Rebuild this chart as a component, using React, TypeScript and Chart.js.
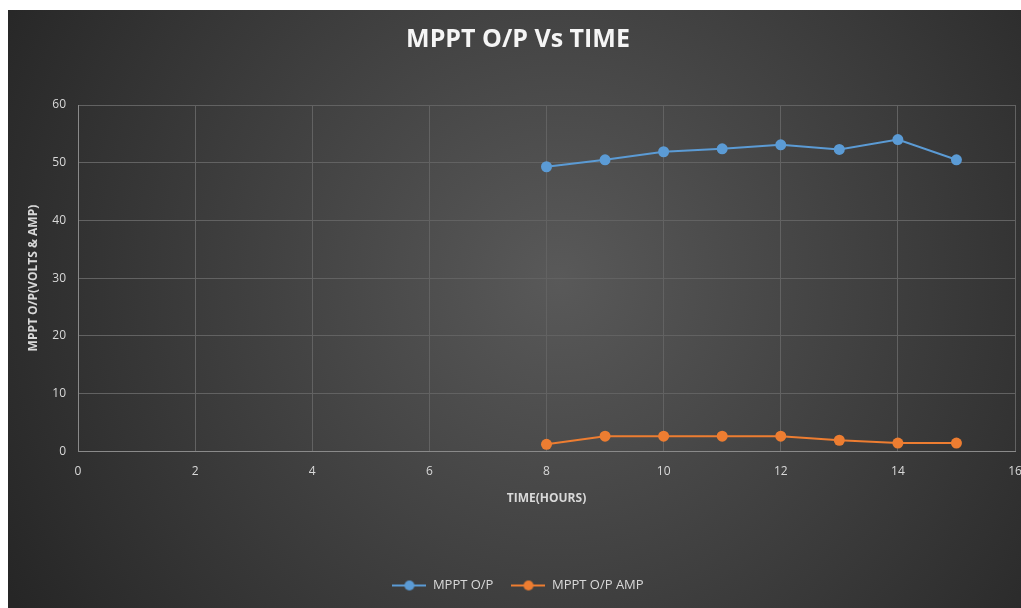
import React, { useEffect, useRef } from "react";
import { Chart, registerables } from "chart.js";

Chart.register(...registerables);

const hours = [8, 9, 10, 11, 12, 13, 14, 15];
const voltsValues = [49.3, 50.5, 51.9, 52.4, 53.1, 52.3, 54.0, 50.5];
const ampValues = [1.2, 2.6, 2.6, 2.6, 2.6, 1.9, 1.4, 1.4];
const seriesLabels = ["MPPT O/P", "MPPT O/P AMP"];
const seriesColors = ["#5b9bd5", "#ed7d31"];
const chartTitle = "MPPT O/P Vs TIME";
const xTitle = "TIME(HOURS)";
const yTitle = "MPPT O/P(VOLTS & AMP)";
const xRange = [0, 16, 2];
const yRange = [0, 60, 10];

const FONT = "'Open Sans', 'DejaVu Sans', sans-serif";
const TEXT = "#d9d9d9";

function makeMarker(color: string): HTMLCanvasElement {
  const c = document.createElement("canvas");
  c.width = 34;
  c.height = 12;
  const ctx = c.getContext("2d")!;
  ctx.strokeStyle = color;
  ctx.lineWidth = 2;
  ctx.beginPath();
  ctx.moveTo(0, 6);
  ctx.lineTo(34, 6);
  ctx.stroke();
  ctx.fillStyle = color;
  ctx.beginPath();
  ctx.arc(17, 6, 5, 0, Math.PI * 2);
  ctx.fill();
  return c;
}

const backgroundPlugin = {
  id: "bg",
  beforeDraw(chart: any) {
    const { ctx, width, height } = chart;
    ctx.save();
    const g = ctx.createRadialGradient(width * 0.54, height * 0.45, 0, width * 0.54, height * 0.45, width * 0.62);
    g.addColorStop(0, "#595959");
    g.addColorStop(1, "#262626");
    ctx.fillStyle = g;
    ctx.fillRect(0, 0, width, height);
    ctx.restore();
  },
};

export default function App() {
  const ref = useRef<HTMLCanvasElement>(null);

  useEffect(() => {
    if (!ref.current) return;
    const markers = seriesColors.map(makeMarker);
    const chart = new Chart(ref.current, {
      type: "line",
      data: {
        datasets: [
          {
            label: seriesLabels[0],
            data: hours.map((h, i) => ({ x: h, y: voltsValues[i] })),
            borderColor: seriesColors[0],
            backgroundColor: seriesColors[0],
            borderWidth: 2,
            pointRadius: 5.5,
            pointBorderWidth: 0,
            pointStyle: "circle",
          },
          {
            label: seriesLabels[1],
            data: hours.map((h, i) => ({ x: h, y: ampValues[i] })),
            borderColor: seriesColors[1],
            backgroundColor: seriesColors[1],
            borderWidth: 2,
            pointRadius: 5.5,
            pointBorderWidth: 0,
            pointStyle: "circle",
          },
        ],
      },
      options: {
        animation: false,
        responsive: false,
        devicePixelRatio: 1,
        layout: { padding: { top: 0, left: 0, right: 0, bottom: 6 } },
        plugins: {
          title: {
            display: true,
            text: chartTitle,
            color: "#f5f5f5",
            font: { family: FONT, size: 25, weight: "bold" },
            padding: { top: 15, bottom: 50 },
          },
          legend: {
            position: "bottom",
            labels: {
              color: TEXT,
              font: { family: FONT, size: 13 },
              usePointStyle: true,
              pointStyleWidth: 34,
              padding: 18,
              generateLabels: (chart: any) =>
                chart.data.datasets.map((ds: any, i: number) => ({
                  text: ds.label,
                  fillStyle: ds.backgroundColor,
                  strokeStyle: ds.borderColor,
                  lineWidth: 0,
                  pointStyle: markers[i],
                  fontColor: TEXT,
                  datasetIndex: i,
                  hidden: false,
                })),
            },
          },
          tooltip: { enabled: false },
        },
        scales: {
          x: {
            type: "linear",
            min: xRange[0],
            max: xRange[1],
            afterFit: (scale: any) => {
              scale.paddingRight = 13;
            },
            ticks: { stepSize: xRange[2], color: TEXT, padding: 13, font: { family: FONT, size: 12 } },
            grid: { color: "#626262", lineWidth: 1, drawTicks: false },
            border: { color: "#8a8a8a", width: 1 },
            title: {
              display: true,
              text: xTitle,
              color: TEXT,
              font: { family: FONT, size: 12, weight: "bold" },
              padding: { top: 0, bottom: 55 },
            },
          },
          y: {
            type: "linear",
            min: yRange[0],
            max: yRange[1],
            afterFit: (scale: any) => {
              scale.width = 70;
            },
            ticks: { stepSize: yRange[2], color: TEXT, padding: 12, font: { family: FONT, size: 12 } },
            grid: { color: "#626262", lineWidth: 1, drawTicks: false },
            border: { color: "#8a8a8a", width: 1 },
            title: {
              display: true,
              text: yTitle,
              color: TEXT,
              font: { family: FONT, size: 12, weight: "bold" },
              padding: { top: 18, bottom: 0 },
            },
          },
        },
      },
      plugins: [backgroundPlugin],
    });
    return () => chart.destroy();
  }, []);

  return (
    <div style={{ position: "fixed", inset: 0, overflow: "hidden", background: "#ffffff" }}>
      <div style={{ position: "absolute", left: 8, top: 10, width: 1020, height: 598 }}>
        <canvas ref={ref} width={1020} height={598} style={{ display: "block" }} />
      </div>
    </div>
  );
}
